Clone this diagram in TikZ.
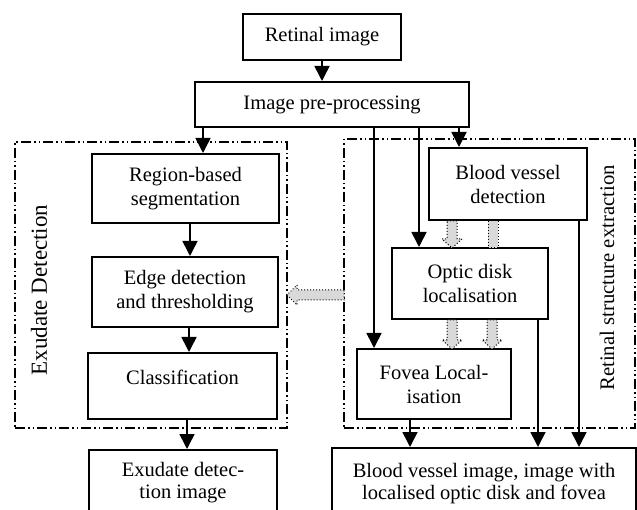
\documentclass[tikz,border=0pt]{standalone}
\usepackage{fontspec}
\setmainfont{Liberation Serif}
\usetikzlibrary{arrows.meta}
\newcommand\downblk[3]{\draw[blk] (#1-5,#2) -- (#1+5,#2) -- (#1+5,#3-9) -- (#1+10,#3-9) -- (#1,#3) -- (#1-10,#3-9) -- (#1-5,#3-9) -- cycle;}
\newcommand\downbar[3]{\draw[blk] (#1-5,#2) rectangle (#1+5,#3);}
\begin{document}
\begin{tikzpicture}[x=1pt,y=-1pt,
  box/.style={draw,line width=2pt,inner sep=0pt,align=center,font=\fontsize{20.5}{24}\selectfont},
  arr/.style={line width=1.6pt,-{Triangle[length=15pt,width=15pt]}},
  frame/.style={draw,line width=1.5pt,dash pattern=on 10pt off 3pt on 1.5pt off 3pt on 1.5pt off 3pt,inner sep=0pt},
  blk/.style={draw,fill=black!15,dotted,line width=1pt},
  vlabel/.style={rotate=90,inner sep=0pt}
]
\useasboundingbox (0,0) rectangle (637,510);
\clip (0,0) rectangle (637,510);
\fill[white] (0,0) rectangle (637,510);

% group frames
\node[frame,minimum width=272pt,minimum height=286pt] (fL) at (151,285) {};
\node[frame,minimum width=291pt,minimum height=289pt] (fR) at (489.5,283.5) {};
\node[vlabel,font=\fontsize{23}{26}\selectfont] (labL) at (39,290) {Exudate Detection};
\node[vlabel,font=\fontsize{20.7}{24}\selectfont] (labR) at (607,278) {Retinal structure extraction};

% boxes
\node[box,minimum width=158pt,minimum height=46pt] (ret) at (322,37) {Retinal image};
\node[box,minimum width=274pt,minimum height=45pt] (pre) at (332,104.5) {Image pre-processing};
\node[box,minimum width=187pt,minimum height=69pt] (reg) at (185.5,188.5) {Region-based\\segmentation};
\node[box,minimum width=186pt,minimum height=70pt] (edge) at (185,292) {Edge detection\\and thresholding};
\node[box,minimum width=189pt,minimum height=66pt] (cls) at (182.5,386) {Classification\\[-6pt]~};
\node[box,minimum width=188pt,minimum height=66pt,font=\fontsize{20.5}{22}\selectfont] (exu) at (183,483) {Exudate detec-\\tion image};
\node[box,minimum width=158pt,minimum height=72pt] (bv) at (508,184) {Blood vessel\\detection};
\node[box,minimum width=156pt,minimum height=71pt] (opt) at (470,283.5) {Optic disk\\localisation};
\node[box,minimum width=154pt,minimum height=70pt] (fov) at (434,384) {Fovea Local-\\isation};
\node[box,minimum width=304pt,minimum height=72pt,font=\fontsize{20.5}{22}\selectfont] (out) at (484,484) {Blood vessel image, image with\\localised optic disk and fovea};

% x guides for connectors
\coordinate (xa) at (203,0);
\coordinate (xb) at (374,0);
\coordinate (xc) at (419,0);
\coordinate (xd) at (459,0);
\coordinate (xe) at (190,0);
\coordinate (xf) at (189,0);
\coordinate (xg) at (187,0);
\coordinate (xh) at (410,0);
\coordinate (xi) at (538,0);
\coordinate (xj) at (579,0);

% connectors
\draw[arr] (ret.south) -- (pre.north -| ret.south);
\draw[arr] (pre.south -| xa) -- (reg.north -| xa);
\draw[arr] (pre.south -| xb) -- (fov.north -| xb);
\draw[arr] (pre.south -| xc) -- (opt.north -| xc);
\draw[arr] (pre.south -| xd) -- (bv.north -| xd);
\draw[arr] (reg.south -| xe) -- (edge.north -| xe);
\draw[arr] (edge.south -| xf) -- (cls.north -| xf);
\draw[arr] (cls.south -| xg) -- (exu.north -| xg);
\draw[arr] (fov.south -| xh) -- (out.north -| xh);
\draw[arr] (opt.south -| xi) -- (out.north -| xi);
\draw[arr] (bv.south -| xj) -- (out.north -| xj);

% dotted block arrows
\downblk{452}{221}{248}
\downbar{493}{221}{248}
\downblk{452}{320}{349}
\downblk{492}{320}{349}
\draw[blk] (344,290) -- (297,290) -- (297,285) -- (287,295) -- (297,305) -- (297,300) -- (344,300) -- cycle;
\end{tikzpicture}
\end{document}
